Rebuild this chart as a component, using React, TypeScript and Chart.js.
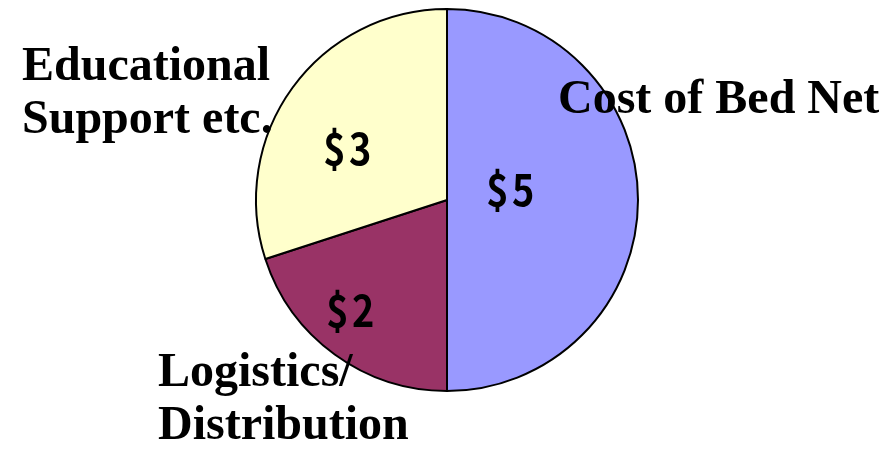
import React, { useEffect, useRef } from "react";
import { Chart, registerables } from "chart.js";

Chart.register(...registerables);

const categories = ["Cost of Bed Net", "Logistics/Distribution", "Educational Support etc."];
const values = [5, 2, 3];
const colors = ["#9999FF", "#993366", "#FFFFCC"];
const valueLabels = values.map((v) => `$${v}`);
const categoryLines = [["Cost of Bed Net"], ["Logistics/", "Distribution"], ["Educational", "Support etc."]];

const labelPlugin = {
  id: "pieLabels",
  afterDatasetsDraw(chart: any) {
    const ctx = chart.ctx;
    const meta = chart.getDatasetMeta(0);
    const arc = meta.data[0];
    const cx = arc.x;
    const cy = arc.y;
    const valueOffsets = [
      [63, -11],
      [-97, 110],
      [-100, -52],
    ];
    ctx.save();
    ctx.fillStyle = "#000";
    ctx.font = "bold 44px 'Noto Sans CJK JP'";
    ctx.textAlign = "center";
    ctx.textBaseline = "middle";
    try { (ctx as any).letterSpacing = "4px"; } catch (e) {}
    valueLabels.forEach((t, i) => {
      ctx.save();
      ctx.translate(cx + valueOffsets[i][0] + 2, cy + valueOffsets[i][1]);
      ctx.scale(0.86, 1);
      ctx.fillText(t, 0, 0);
      ctx.restore();
    });
    try { (ctx as any).letterSpacing = "0px"; } catch (e) {}
    const catPos = [
      [558, 113],
      [158, 386],
      [22, 80],
    ];
    ctx.font = "bold 48px 'Liberation Serif'";
    ctx.textAlign = "left";
    ctx.textBaseline = "alphabetic";
    categoryLines.forEach((lines, i) => {
      lines.forEach((ln, j) => {
        ctx.fillText(ln, catPos[i][0], catPos[i][1] + j * 53);
      });
    });
    ctx.restore();
  },
};

export default function App() {
  const ref = useRef<HTMLCanvasElement>(null);
  useEffect(() => {
    document.body.style.margin = "0";
    const chart = new Chart(ref.current!, {
      type: "pie",
      data: {
        labels: categories,
        datasets: [
          {
            data: values,
            backgroundColor: colors,
            borderColor: "#000000",
            borderWidth: 2,
            radius: 191,
          } as any,
        ],
      },
      options: {
        responsive: false,
        animation: false,
        layout: { padding: { top: 0, bottom: 49, left: 0, right: 1 } },
        plugins: {
          legend: { display: false },
          tooltip: { enabled: false },
        },
      },
      plugins: [labelPlugin],
    });
    return () => chart.destroy();
  }, []);
  return (
    <div style={{ width: 895, height: 449, background: "#fff" }}>
      <canvas ref={ref} width={895} height={449} />
    </div>
  );
}
